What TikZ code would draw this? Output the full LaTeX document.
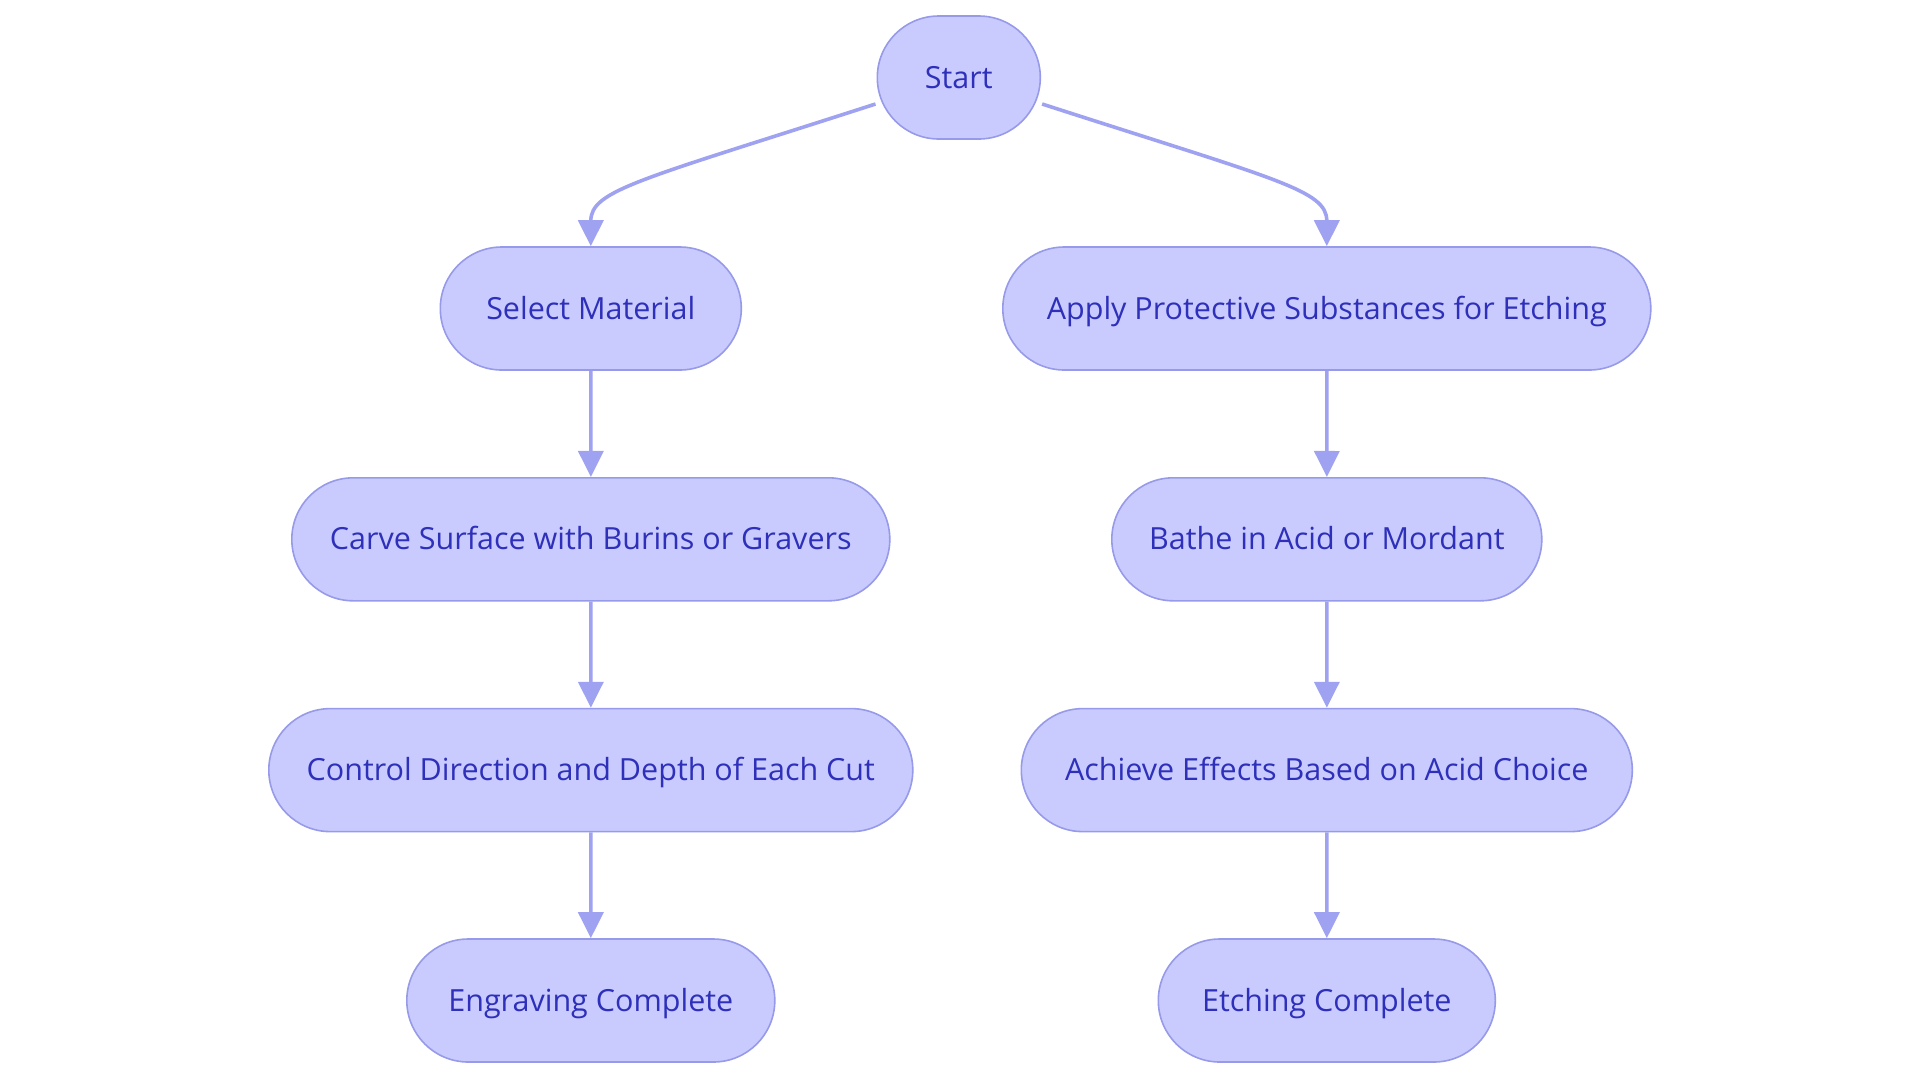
\documentclass[tikz,border=0pt]{standalone}
\usepackage{fontspec}
\setmainfont{Open Sans}
\usetikzlibrary{shapes.misc,arrows.meta}
\definecolor{nodefill}{RGB}{201,203,255}
\definecolor{nodedraw}{RGB}{150,154,232}
\definecolor{edgecol}{RGB}{158,162,240}
\definecolor{txtcol}{RGB}{46,48,186}
\tikzset{
  flow/.style={rounded rectangle, draw=nodedraw, fill=nodefill, line width=1.6pt,
    minimum height=123pt, inner xsep=0pt, text=txtcol,
    text height=22pt, text depth=1pt,
    font=\fontsize{30.5}{36}\selectfont},
  conn/.style={draw=edgecol, line width=3.6pt,
    -{Triangle[width=25pt,length=26pt]}}
}
\begin{document}
\begin{tikzpicture}[x=1pt,y=-1pt]
\useasboundingbox (0,0) rectangle (1920,1080);
\node[flow, minimum width=163pt] (s) at (958.8,77.5) {Start};
\node[flow, minimum width=301pt] (sel) at (590.8,308.5) {Select Material};
\node[flow, minimum width=648pt] (app) at (1326.8,308.5) {Apply Protective Substances for Etching};
\node[flow, minimum width=598pt] (carve) at (590.8,539.3) {Carve Surface with Burins or Gravers};
\node[flow, minimum width=430pt] (bathe) at (1326.8,539.3) {Bathe in Acid or Mordant};
\node[flow, minimum width=644pt] (ctrl) at (590.8,770.1) {Control Direction and Depth of Each Cut};
\node[flow, minimum width=611pt] (ach) at (1326.8,770.1) {Achieve Effects Based on Acid Choice};
\node[flow, minimum width=368pt] (engr) at (590.8,1000.5) {Engraving Complete};
\node[flow, minimum width=337pt] (etch) at (1326.8,1000.5) {Etching Complete};
\draw[conn] ([xshift=-1pt]s.west |- 0,104) .. controls (640,180) and (590.8,190) .. (sel.north);
\draw[conn] ([xshift=1pt]s.east |- 0,104) .. controls (1277.6,180) and (1326.8,190) .. (app.north);
\draw[conn] (sel) -- (carve);
\draw[conn] (carve) -- (ctrl);
\draw[conn] (ctrl) -- (engr);
\draw[conn] (app) -- (bathe);
\draw[conn] (bathe) -- (ach);
\draw[conn] (ach) -- (etch);
\end{tikzpicture}
\end{document}
